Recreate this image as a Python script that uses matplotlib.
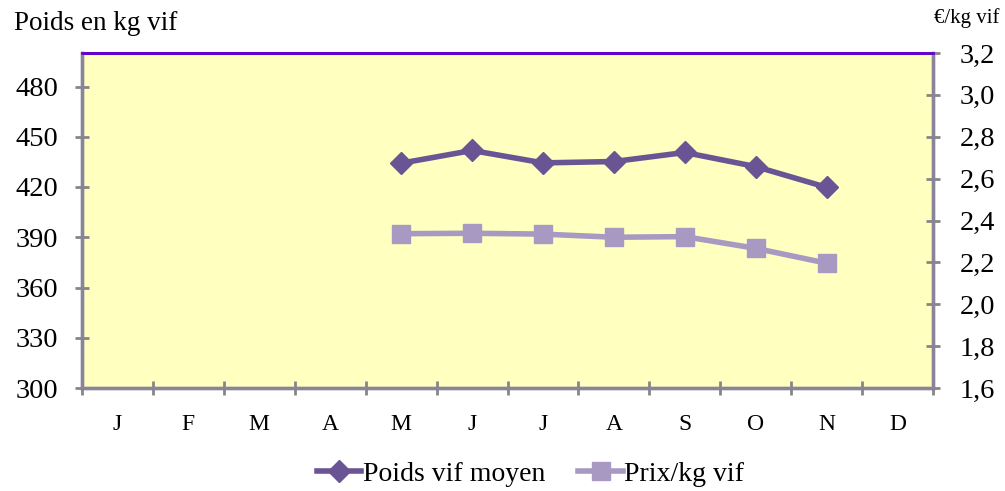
import matplotlib
matplotlib.use("Agg")
import matplotlib.pyplot as plt
import numpy as np

plt.rcParams['font.family'] = ['Liberation Serif', 'DejaVu Serif']

months = ["J", "F", "M", "A", "M", "J", "J", "A", "S", "O", "N", "D"]
poids = [None, None, None, None, 434.2, 441.8, 434.4, 435.2, 440.6, 432.2, 419.8, None]
prix = [None, None, None, None, 2.337, 2.339, 2.335, 2.32, 2.323, 2.267, 2.196, None]

W, H = 1005, 491
fig = plt.figure(figsize=(W / 100, H / 100), dpi=100)
L, R, T, B = 82, 933, 53, 388
ax = fig.add_axes([L / W, 1 - B / H, (R - L) / W, (B - T) / H])
ax2 = ax.twinx()

ax.set_facecolor('#FFFFC0')
x = np.arange(len(months))
pw = np.array([np.nan if v is None else v for v in poids], dtype=float)
pr = np.array([np.nan if v is None else v for v in prix], dtype=float)

c1 = '#6B5494'
c2 = '#A899C2'
l1, = ax.plot(x, pw, color=c1, lw=4, marker='D', ms=11, zorder=3, label='Poids vif moyen')
l2, = ax2.plot(x, pr, color=c2, lw=4, marker='s', ms=13, zorder=3, label='Prix/kg vif')

ax.set_xlim(-0.5, 11.5)
ax.set_ylim(300, 500)
ax2.set_ylim(1.6, 3.2)
ax.set_yticks([300, 330, 360, 390, 420, 450, 480])
ax2.set_yticks(np.arange(1.6, 3.21, 0.2))
ax2.set_yticklabels([f"{v:.1f}".replace('.', ',') for v in np.arange(1.6, 3.21, 0.2)])

ax.set_xticks(np.arange(-0.5, 12, 1))
ax.set_xticklabels([])
ax.set_xticks(x, minor=True)
ax.set_xticklabels(months, minor=True, fontsize=17)
ax.tick_params(axis='x', which='minor', length=0, pad=19)
ax.tick_params(axis='x', which='major', direction='inout', length=10, width=2, color='#868686')
ax.tick_params(axis='y', direction='inout', length=10, width=2, color='#868686', labelsize=20.5, pad=12)
ax2.tick_params(axis='y', direction='inout', length=10, width=2, color='#868686', labelsize=20.5, pad=14)

gray = '#8A849A'
for a in (ax, ax2):
    for s in ('left', 'right', 'bottom'):
        a.spines[s].set_color(gray)
        a.spines[s].set_linewidth(2.4)
    a.spines['top'].set_color('#6600CC')
    a.spines['top'].set_linewidth(2)

fig.text(14 / W, 1 - 24 / H, "Poids en kg vif", fontsize=19.5, va='center', ha='left')
fig.text(999 / W, 1 - 18 / H, "€/kg vif", fontsize=15, va='center', ha='right')

fig.legend(handles=[l1, l2], loc='center', bbox_to_anchor=(0.528, 1 - 474 / H), ncol=2,
           frameon=False, fontsize=20, handlelength=1.6, handletextpad=0.05, columnspacing=1.2)

fig.savefig('out.png', dpi=100)
